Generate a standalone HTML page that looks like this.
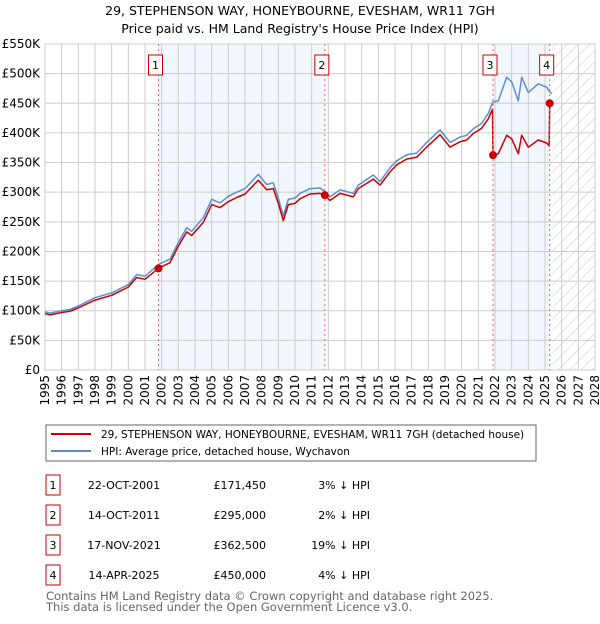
<!DOCTYPE html>
<html><head><meta charset="utf-8">
<style>
body{margin:0;background:#fff;font-family:"DejaVu Sans","Liberation Sans",sans-serif;}
svg text{font-family:"DejaVu Sans","Liberation Sans",sans-serif;}
</style></head>
<body>
<svg id="chart" width="600" height="620" xmlns="http://www.w3.org/2000/svg">
<defs>
<pattern id="hatch" patternUnits="userSpaceOnUse" width="8" height="8" patternTransform="rotate(45)">
<line x1="0" y1="0" x2="0" y2="8" stroke="#c8c8c8" stroke-width="1"/>
</pattern>
</defs>
<text x="300" y="15" text-anchor="middle" font-size="12.5">29, STEPHENSON WAY, HONEYBOURNE, EVESHAM, WR11 7GH</text>
<text x="300" y="33" text-anchor="middle" font-size="12.5">Price paid vs. HM Land Registry's House Price Index (HPI)</text>
<g id="bg"></g>
<g id="grid"></g>
<g id="series"></g>
<g id="marks"></g>
<g id="axes"></g>

<g>
<rect x="46" y="425" width="490" height="36" fill="#fff" stroke="#666" stroke-width="1"/>
<line x1="51" y1="434" x2="91" y2="434" stroke="#cc0000" stroke-width="2"/>
<text x="101" y="438" font-size="10.5">29, STEPHENSON WAY, HONEYBOURNE, EVESHAM, WR11 7GH (detached house)</text>
<line x1="51" y1="451" x2="91" y2="451" stroke="#5b8fd0" stroke-width="2"/>
<text x="101" y="455" font-size="10.5">HPI: Average price, detached house, Wychavon</text>
</g>
<g id="table"></g>
<text x="46" y="600" font-size="11.5" fill="#666">Contains HM Land Registry data © Crown copyright and database right 2025.</text>
<text x="46" y="611" font-size="11.5" fill="#666">This data is licensed under the Open Government Licence v3.0.</text>
</svg>
<script>
const years=[1995.0,1995.3,1996.0,1996.5,1997.0,1998.0,1999.0,2000.0,2000.5,2001.0,2001.8,2002.5,2003.0,2003.5,2003.8,2004.5,2005.0,2005.5,2006.0,2006.5,2007.0,2007.8,2008.3,2008.7,2009.0,2009.3,2009.6,2010.0,2010.3,2010.9,2011.5,2011.8,2012.1,2012.7,2013.5,2013.8,2014.7,2015.1,2015.7,2016.1,2016.7,2017.3,2017.9,2018.7,2019.3,2019.9,2020.3,2020.7,2021.2,2021.6,2021.85,2021.88,2022.2,2022.7,2023.0,2023.4,2023.6,2024.0,2024.6,2025.1,2025.25,2025.28,2025.4];
const hpiValues=[98,96,100,102,108,122,130,144,161,158,178,187,215,240,234,257,288,282,293,300,306,330,313,316,290,260,288,290,298,306,307,301,292,304,298,312,329,318,341,353,363,366,384,405,384,393,396,407,416,433,451,452,454,494,486,454,494,468,483,477,470,470,466];
const priceValues=[95,93,97,99,105,118,126,140,156,153,171.5,181,209,233,227,249,279,274,284,291,297,320,304,306,281,252,279,281,289,297,298,295,286,298,292,306,322,312,334,346,356,359,376,397,376,385,388,399,408,424,440,362.5,365,396,390,365,396,376,388,383,378,450,446];
const saleYears=[2001.81,2011.79,2021.88,2025.28];
const salePrices=[171.45,295,362.5,450];
const saleLabels=["1","2","3","4"];
const saleDates=["22-OCT-2001","14-OCT-2011","17-NOV-2021","14-APR-2025"];
const salePriceText=["£171,450","£295,000","£362,500","£450,000"];
const saleDiffText=["3% ↓ HPI","2% ↓ HPI","19% ↓ HPI","4% ↓ HPI"];
const yTicks=[0,50,100,150,200,250,300,350,400,450,500,550];
const yTickLabels=["£0","£50K","£100K","£150K","£200K","£250K","£300K","£350K","£400K","£450K","£500K","£550K"];
const xTicks=[1995,1996,1997,1998,1999,2000,2001,2002,2003,2004,2005,2006,2007,2008,2009,2010,2011,2012,2013,2014,2015,2016,2017,2018,2019,2020,2021,2022,2023,2024,2025,2026,2027,2028];

const NS="http://www.w3.org/2000/svg";
const X0=45,X1=595,Y0=370,Y1=44;
function xs(y){return X0+(y-1995)/(2028-1995)*(X1-X0);}
function ys(v){return Y0-v/550*(Y0-Y1);}
function mk(tag,attrs,parent){const e=document.createElementNS(NS,tag);for(const k in attrs)e.setAttribute(k,attrs[k]);parent.appendChild(e);return e;}
const bg=document.getElementById('bg'),grid=document.getElementById('grid'),ser=document.getElementById('series'),marks=document.getElementById('marks'),axes=document.getElementById('axes'),table=document.getElementById('table');

let r=mk('rect',{x:xs(saleYears[0]),y:Y1,width:xs(saleYears[1])-xs(saleYears[0]),height:Y0-Y1,fill:'#eef3fc',opacity:0.75},bg);


r=mk('rect',{x:xs(saleYears[2]),y:Y1,width:xs(saleYears[3])-xs(saleYears[2]),height:Y0-Y1,fill:'#eef3fc',opacity:0.75},bg);


r=mk('rect',{x:xs(2025.45),y:Y1,width:X1-xs(2025.45),height:Y0-Y1,fill:'url(#hatch)'},bg);



yTicks.forEach((t,i)=>{
  const l=mk('line',{x1:X0,x2:X1,y1:ys(t),y2:ys(t),stroke:'#cccccc','stroke-width':1},grid);
  
  
  const tx=mk('text',{x:X0-5,y:ys(t)+4,'text-anchor':'end','font-size':12},axes);
  tx.textContent=yTickLabels[i];
  
  
});
xTicks.forEach(t=>{
  const l=mk('line',{x1:xs(t),x2:xs(t),y1:Y1,y2:Y0,stroke:'#cccccc','stroke-width':1},grid);
  
  
  const tx=mk('text',{x:0,y:0,'text-anchor':'end','font-size':12,transform:`translate(${xs(t)+4},${Y0+5}) rotate(-90)`},axes);
  tx.textContent=String(t);
  
  
});
let fr=mk('rect',{x:X0,y:Y1,width:X1-X0,height:Y0-Y1,fill:'none',stroke:'#cccccc'},grid);



function pathOf(vals){return vals.map((v,i)=>(i?'L':'M')+xs(years[i]).toFixed(1)+','+ys(v).toFixed(1)).join(' ');}
let p=mk('path',{d:pathOf(hpiValues),fill:'none',stroke:'#5b8fd0','stroke-width':1.5,'stroke-linejoin':'round'},ser);


p=mk('path',{d:pathOf(priceValues),fill:'none',stroke:'#cc0000','stroke-width':1.5,'stroke-linejoin':'round'},ser);



saleYears.forEach((sy,i)=>{
  const l=mk('line',{x1:xs(sy),x2:xs(sy),y1:Y1,y2:Y0,stroke:'#e06666','stroke-width':1,'stroke-dasharray':'2,3'},marks);
  
  
  const c=mk('circle',{cx:xs(sy),cy:ys(salePrices[i]),r:4,fill:'#cc0000'},marks);
  
  
  const b=mk('rect',{x:xs(sy)-10,y:55,width:14,height:20,fill:'#fff',stroke:'#cc0000','stroke-width':1},marks);
  
  
  const t=mk('text',{x:xs(sy)-3,y:69,'text-anchor':'middle','font-size':11},marks);
  t.textContent=saleLabels[i];
  
  

  const cy=485+i*30;
  const tb=mk('rect',{x:46,y:cy-10,width:14,height:20,fill:'#fff',stroke:'#cc0000','stroke-width':1},table);
  
  
  const tl=mk('text',{x:53,y:cy+4,'text-anchor':'middle','font-size':11},table);
  tl.textContent=saleLabels[i];
  
  
  const td=mk('text',{x:124,y:cy+4,'text-anchor':'middle','font-size':11},table);
  td.textContent=saleDates[i];
  
  
  const tp=mk('text',{x:266,y:cy+4,'text-anchor':'end','font-size':11},table);
  tp.textContent=salePriceText[i];
  
  
  const tdf=mk('text',{x:370,y:cy+4,'text-anchor':'end','font-size':11},table);
  tdf.textContent=saleDiffText[i];
  
  
});
</script>
</body></html>
